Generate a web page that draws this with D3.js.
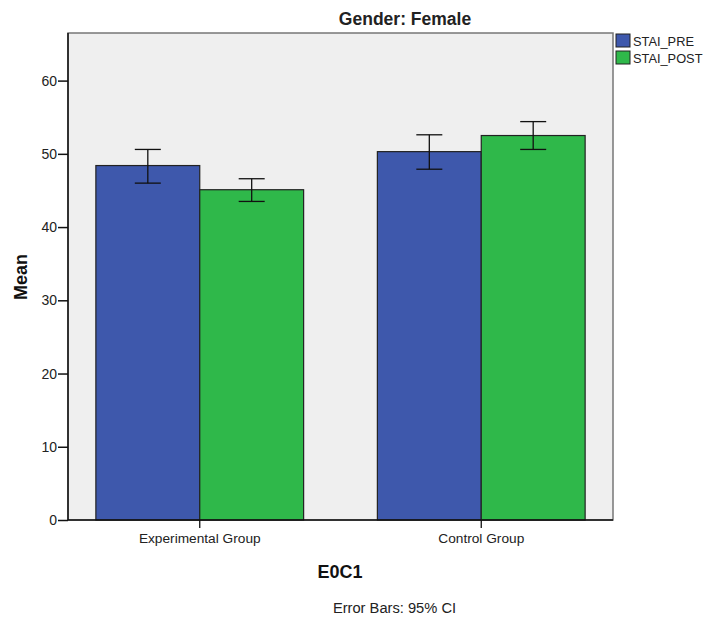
<!DOCTYPE html>
<html>
<head>
<meta charset="utf-8">
<script src="https://cdn.jsdelivr.net/npm/d3@7"></script>
<style>
  body { margin: 0; background: #fff; }
  text { font-family: "Liberation Sans", Arial, sans-serif; }
</style>
</head>
<body>
<div id="chart"></div>
<script>
let wSvg = 706; let hSvg = 619;
let plotLeft = 68, plotRight = 613, plotTop = 33, plotBottom = 520;

const groups = ["Experimental Group", "Control Group"];
const seriesNames = ["STAI_PRE", "STAI_POST"];
const seriesColors = ["#3e58ac", "#2fb84a"];
const meanPre = [48.4, 50.3];
const meanPost = [45.1, 52.5];
const ciPre = [[46.0, 50.6], [47.9, 52.6]];
const ciPost = [[43.5, 46.6], [50.6, 54.4]];
const yTicks = [0, 10, 20, 30, 40, 50, 60];

const rows = [];
groups.forEach((g, i) => {
    rows.push({group: g, series: seriesNames[0], mean: meanPre[i], lo: ciPre[i][0], hi: ciPre[i][1]});
    rows.push({group: g, series: seriesNames[1], mean: meanPost[i], lo: ciPost[i][0], hi: ciPost[i][1]});
});

let svg = d3.select("#chart")
    .append("svg")
    .attr("width", wSvg)
    .attr("height", hSvg);

const xScale = d3.scaleBand()
    .domain(groups)
    .range([plotLeft, plotRight])
    .paddingInner(0.262)
    .paddingOuter(0.099);

const xInner = d3.scaleBand()
    .domain(seriesNames)
    .range([0, xScale.bandwidth()]);

const yScale = d3.scaleLinear()
    .domain([0, 66.5])
    .range([plotBottom, plotTop]);

const color = d3.scaleOrdinal().domain(seriesNames).range(seriesColors);

// plot background
svg.append("rect")
    .attr("x", plotLeft).attr("y", plotTop)
    .attr("width", plotRight - plotLeft).attr("height", plotBottom - plotTop)
    .attr("fill", "#efefef")
    .attr("stroke", "#777")
    .attr("stroke-width", 1.5);

// bars
svg.append("g")
    .selectAll("rect")
    .data(rows)
    .enter()
    .append("rect")
    .attr("x", d => xScale(d.group) + xInner(d.series))
    .attr("y", d => yScale(d.mean))
    .attr("width", xInner.bandwidth())
    .attr("height", d => yScale(0) - yScale(d.mean))
    .attr("fill", d => color(d.series))
    .attr("stroke", "#222")
    .attr("stroke-width", 1.2);

// error bars
const eb = svg.append("g").attr("stroke", "#111").attr("stroke-width", 1.3);
const cx = d => xScale(d.group) + xInner(d.series) + xInner.bandwidth() / 2;
const cap = 13;
rows.forEach(d => {
    eb.append("line").attr("x1", cx(d)).attr("x2", cx(d))
        .attr("y1", yScale(d.lo)).attr("y2", yScale(d.hi));
    eb.append("line").attr("x1", cx(d) - cap).attr("x2", cx(d) + cap)
        .attr("y1", yScale(d.lo)).attr("y2", yScale(d.lo));
    eb.append("line").attr("x1", cx(d) - cap).attr("x2", cx(d) + cap)
        .attr("y1", yScale(d.hi)).attr("y2", yScale(d.hi));
});

// axes
const axisLeft = d3.axisLeft(yScale).tickValues(yTicks).tickSize(10).tickPadding(1);
svg.append("g")
    .attr("transform", `translate(${plotLeft}, 0)`)
    .call(axisLeft)
    .call(g => g.select(".domain").attr("stroke", "#111").attr("stroke-width", 1.5).attr("d", `M0,${plotTop}V${plotBottom}`))
    .call(g => g.selectAll("line").attr("stroke", "#111").attr("stroke-width", 1.5))
    .call(g => g.selectAll("text").style("font-size", "14px").attr("fill", "#222"));

const axisBottom = d3.axisBottom(xScale).tickSize(8).tickPadding(5);
svg.append("g")
    .attr("transform", `translate(0, ${plotBottom})`)
    .call(axisBottom)
    .call(g => g.select(".domain").attr("stroke", "#111").attr("stroke-width", 1.5).attr("d", `M${plotLeft},0H${plotRight}`))
    .call(g => g.selectAll("line").attr("stroke", "#111").attr("stroke-width", 1.3))
    .call(g => g.selectAll("text").style("font-size", "13.7px").attr("fill", "#222"));

// title
svg.append("text")
    .attr("x", 405).attr("y", 25)
    .attr("text-anchor", "middle")
    .style("font-size", "17.5px").style("font-weight", "bold")
    .attr("fill", "#222")
    .text("Gender: Female");

// axis titles
svg.append("text")
    .attr("transform", "translate(27, 277) rotate(-90)")
    .attr("text-anchor", "middle")
    .style("font-size", "18px").style("font-weight", "bold")
    .attr("fill", "#111")
    .text("Mean");

svg.append("text")
    .attr("x", 340).attr("y", 578)
    .attr("text-anchor", "middle")
    .style("font-size", "18px").style("font-weight", "bold")
    .attr("fill", "#111")
    .text("E0C1");

svg.append("text")
    .attr("x", 394.5).attr("y", 613)
    .attr("text-anchor", "middle")
    .style("font-size", "14.7px").attr("fill", "#222")
    .text("Error Bars: 95% CI");

// legend
const legend = svg.append("g")
    .selectAll("g")
    .data(seriesNames)
    .enter()
    .append("g")
    .attr("transform", (d, i) => `translate(616, ${34 + i * 17})`);

legend.append("rect")
    .attr("width", 14).attr("height", 13)
    .attr("fill", d => color(d))
    .attr("stroke", "#222");

legend.append("text")
    .attr("x", 17).attr("y", 12)
    .style("font-size", "12.8px").attr("fill", "#222")
    .text(d => d);
</script>
</body>
</html>
